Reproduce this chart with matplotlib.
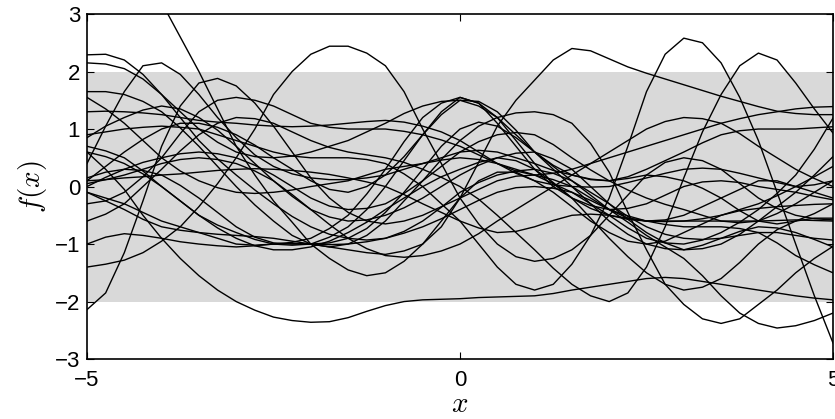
import numpy as np
import matplotlib
matplotlib.use("Agg")
import matplotlib.pyplot as plt

# sample inputs, one reading every 0.25
x_grid = [-5.0, -4.75, -4.5, -4.25, -4.0, -3.75, -3.5, -3.25, -3.0, -2.75,
          -2.5, -2.25, -2.0, -1.75, -1.5, -1.25, -1.0, -0.75, -0.5, -0.25,
          0.0, 0.25, 0.5, 0.75, 1.0, 1.25, 1.5, 1.75, 2.0, 2.25,
          2.5, 2.75, 3.0, 3.25, 3.5, 3.75, 4.0, 4.25, 4.5, 4.75, 5.0]

# function samples (one list per curve)
f01 = [5.4, 4.9, 4.4, 3.8, 3.2, 2.6, 2.0, 1.35, 0.7, 0.2, -0.25, -0.62, -1.0, -1.25, -1.45, -1.55, -1.5, -1.3, -1.0, -0.6, -0.2, 0.1, 0.25, 0.25, 0.1, -0.1, -0.35, -0.6, -0.8, -0.95, -1.0, -0.95, -0.8, -0.65, -0.5, -0.42, -0.38, -0.35, -0.33, -0.31, -0.3]
f02 = [-2.14, -1.85, -1.15, -0.25, 0.7, 1.4, 1.8, 1.88, 1.75, 1.45, 1.05, 0.6, 0.15, -0.2, -0.45, -0.6, -0.65, -0.6, -0.5, -0.35, -0.2, -0.05, 0.1, 0.18, 0.2, 0.12, 0.0, -0.2, -0.4, -0.55, -0.6, -0.58, -0.5, -0.35, -0.2, -0.05, 0.1, 0.1, 0.0, -0.1, -0.2]
f03 = [-1.4, -1.35, -1.28, -1.15, -0.95, -0.7, -0.35, 0.05, 0.5, 1.0, 1.6, 2.0, 2.3, 2.44, 2.44, 2.32, 2.1, 1.65, 1.0, 0.4, -0.2, -0.65, -1.0, -1.22, -1.3, -1.25, -1.1, -0.85, -0.5, -0.15, 0.2, 0.42, 0.5, 0.45, 0.3, 0.05, -0.2, -0.38, -0.5, -0.56, -0.58]
f04 = [0.6, 0.3, -0.05, -0.5, -0.9, -1.25, -1.55, -1.8, -2.0, -2.15, -2.27, -2.33, -2.36, -2.35, -2.28, -2.17, -2.07, -2.0, -1.97, -1.96, -1.95, -1.93, -1.92, -1.91, -1.9, -1.86, -1.8, -1.75, -1.7, -1.65, -1.6, -1.58, -1.6, -1.65, -1.7, -1.75, -1.8, -1.85, -1.9, -1.94, -1.97]
f05 = [0.15, 0.25, 0.3, 0.28, 0.2, 0.02, -0.2, -0.45, -0.7, -0.88, -0.98, -1.0, -1.0, -1.05, -1.1, -1.15, -1.18, -1.12, -1.0, -0.7, -0.2, 0.42, 1.05, 1.5, 1.85, 2.2, 2.4, 2.36, 2.22, 2.08, 1.97, 1.87, 1.77, 1.67, 1.57, 1.48, 1.39, 1.31, 1.27, 1.25, 1.25]
f06 = [0.9, 0.95, 1.0, 1.03, 1.05, 1.03, 1.0, 0.9, 0.8, 0.7, 0.6, 0.53, 0.5, 0.5, 0.5, 0.47, 0.4, 0.22, 0.0, -0.3, -0.6, -1.0, -1.4, -1.7, -1.8, -1.7, -1.35, -0.85, -0.2, 0.7, 1.65, 2.3, 2.58, 2.5, 2.15, 1.55, 0.8, -0.1, -1.0, -1.9, -2.72]
f07 = [-0.6, -0.48, -0.3, 0.0, 0.3, 0.62, 0.9, 1.1, 1.2, 1.18, 1.1, 0.95, 0.8, 0.68, 0.6, 0.55, 0.5, 0.42, 0.3, 0.16, 0.0, -0.22, -0.5, -0.8, -1.1, -1.42, -1.7, -1.9, -2.0, -1.85, -1.4, -0.7, 0.15, 0.95, 1.6, 2.1, 2.32, 2.2, 1.8, 1.35, 0.93]
f08 = [1.65, 1.65, 1.6, 1.48, 1.3, 1.02, 0.7, 0.35, 0.0, -0.32, -0.6, -0.85, -1.0, -1.05, -1.0, -0.85, -0.6, -0.25, 0.1, 0.47, 0.8, 1.05, 1.2, 1.28, 1.3, 1.25, 1.1, 0.75, 0.25, -0.45, -1.1, -1.7, -2.05, -2.3, -2.38, -2.3, -2.05, -1.8, -1.5, -1.25, -1.04]
f09 = [-1.0, -0.88, -0.82, -0.85, -0.9, -0.96, -1.0, -1.03, -1.05, -1.03, -1.0, -0.99, -1.0, -0.98, -0.9, -0.73, -0.45, -0.1, 0.3, 0.7, 1.0, 1.12, 1.05, 0.85, 0.6, 0.35, 0.1, -0.15, -0.4, -0.62, -0.85, -1.05, -1.25, -1.55, -1.9, -2.2, -2.38, -2.46, -2.42, -2.33, -2.2]
f10 = [0.7, 0.62, 0.5, 0.27, 0.0, -0.25, -0.5, -0.67, -0.8, -0.92, -1.0, -1.02, -1.0, -0.88, -0.7, -0.4, 0.0, 0.45, 0.9, 1.3, 1.55, 1.45, 1.1, 0.7, 0.3, 0.0, -0.2, -0.33, -0.4, -0.38, -0.3, -0.15, 0.0, 0.08, 0.1, 0.07, 0.0, -0.05, -0.1, -0.17, -0.23]
f11 = [0.1, 0.35, 0.6, 0.82, 1.0, 1.1, 1.1, 1.03, 0.9, 0.72, 0.5, 0.3, 0.1, -0.05, -0.1, 0.0, 0.2, 0.52, 0.9, 1.25, 1.5, 1.48, 1.3, 0.98, 0.6, 0.3, 0.0, -0.3, -0.6, -0.83, -1.0, -1.08, -1.1, -1.02, -0.9, -0.78, -0.7, -0.72, -0.8, -0.92, -1.05]
f12 = [-0.1, -0.2, -0.3, -0.45, -0.6, -0.7, -0.8, -0.9, -1.0, -1.02, -1.0, -0.97, -0.9, -0.73, -0.5, -0.13, 0.3, 0.78, 1.2, 1.45, 1.55, 1.45, 1.2, 0.8, 0.4, 0.05, -0.2, -0.38, -0.5, -0.57, -0.6, -0.61, -0.6, -0.56, -0.5, -0.4, -0.3, -0.16, 0.0, 0.17, 0.35]
f13 = [2.15, 2.13, 2.05, 1.87, 1.6, 1.3, 1.0, 0.77, 0.6, 0.52, 0.5, 0.53, 0.6, 0.7, 0.8, 0.95, 1.1, 1.27, 1.4, 1.48, 1.5, 1.4, 1.2, 0.9, 0.6, 0.37, 0.2, 0.12, 0.1, 0.14, 0.2, 0.17, 0.1, -0.03, -0.2, -0.42, -0.6, -0.65, -0.6, -0.47, -0.3]
f14 = [1.3, 1.31, 1.3, 1.28, 1.25, 1.2, 1.15, 1.12, 1.1, 1.07, 1.05, 1.04, 1.05, 1.07, 1.1, 1.13, 1.15, 1.12, 1.05, 0.95, 0.8, 0.6, 0.4, 0.23, 0.1, 0.03, 0.0, -0.01, 0.0, 0.07, 0.15, 0.23, 0.3, 0.32, 0.3, 0.23, 0.15, 0.07, 0.0, 0.03, 0.1]
f15 = [2.29, 2.3, 2.2, 1.95, 1.6, 1.2, 0.8, 0.48, 0.2, -0.06, -0.3, -0.52, -0.7, -0.83, -0.9, -0.93, -0.9, -0.78, -0.6, -0.36, -0.1, 0.07, 0.2, 0.27, 0.3, 0.23, 0.1, -0.1, -0.3, -0.52, -0.7, -0.83, -0.9, -0.92, -0.9, -0.85, -0.8, -0.8, -0.85, -0.9, -0.93]
f16 = [0.4, 1.05, 1.65, 2.1, 2.15, 1.95, 1.6, 1.2, 0.85, 0.55, 0.35, 0.22, 0.15, 0.12, 0.12, 0.15, 0.2, 0.3, 0.4, 0.5, 0.6, 0.63, 0.6, 0.5, 0.4, 0.28, 0.2, 0.13, 0.1, 0.17, 0.3, 0.45, 0.6, 0.76, 0.9, 0.97, 1.0, 1.0, 1.0, 1.02, 1.04]
f17 = [0.85, 1.05, 1.2, 1.33, 1.4, 1.35, 1.2, 0.98, 0.7, 0.4, 0.1, -0.17, -0.4, -0.53, -0.6, -0.58, -0.5, -0.37, -0.2, 0.0, 0.2, 0.37, 0.5, 0.58, 0.6, 0.48, 0.3, 0.0, -0.3, -0.57, -0.8, -0.98, -1.1, -1.08, -1.0, -0.83, -0.6, -0.35, -0.1, 0.2, 0.52]
f18 = [-0.3, -0.25, -0.1, 0.17, 0.5, 0.92, 1.3, 1.5, 1.55, 1.5, 1.4, 1.25, 1.1, 1.03, 1.0, 1.0, 1.0, 0.96, 0.9, 0.81, 0.7, 0.55, 0.4, 0.27, 0.2, 0.23, 0.3, 0.4, 0.5, 0.6, 0.7, 0.8, 0.9, 1.0, 1.1, 1.18, 1.25, 1.3, 1.35, 1.38, 1.39]
f19 = [0.05, 0.12, 0.2, 0.3, 0.4, 0.47, 0.5, 0.47, 0.4, 0.27, 0.1, -0.14, -0.4, -0.66, -0.9, -1.08, -1.2, -1.23, -1.2, -1.12, -1.0, -0.82, -0.6, -0.4, -0.2, 0.0, 0.2, 0.4, 0.6, 0.8, 1.0, 1.13, 1.2, 1.18, 1.1, 0.92, 0.7, 0.5, 0.3, 0.14, 0.0]
f20 = [0.6, 0.52, 0.4, 0.22, 0.0, -0.25, -0.5, -0.72, -0.9, -1.03, -1.1, -1.1, -1.05, -0.95, -0.8, -0.62, -0.4, -0.2, 0.0, 0.17, 0.3, 0.42, 0.5, 0.45, 0.3, 0.07, -0.2, -0.55, -0.9, -1.22, -1.5, -1.7, -1.8, -1.75, -1.6, -1.32, -1.0, -0.75, -0.6, -0.55, -0.55]
f21 = [-0.1, -0.25, -0.4, -0.57, -0.7, -0.76, -0.8, -0.83, -0.85, -0.87, -0.9, -0.95, -1.0, -1.01, -1.0, -0.96, -0.9, -0.81, -0.7, -0.56, -0.4, -0.24, -0.1, -0.02, 0.0, -0.03, -0.1, -0.24, -0.4, -0.51, -0.6, -0.66, -0.7, -0.7, -0.7, -0.73, -0.8, -0.98, -1.2, -1.36, -1.5]
f22 = [1.55, 1.35, 1.1, 0.8, 0.5, 0.27, 0.1, -0.02, -0.1, -0.12, -0.1, -0.06, 0.0, 0.05, 0.1, 0.2, 0.3, 0.35, 0.4, 0.46, 0.5, 0.47, 0.4, 0.3, 0.2, 0.05, -0.1, -0.3, -0.5, -0.72, -0.9, -0.98, -1.0, -0.93, -0.8, -0.62, -0.4, -0.12, 0.2, 0.65, 1.19]
f23 = [0.0, 0.16, 0.3, 0.42, 0.5, 0.57, 0.6, 0.57, 0.5, 0.37, 0.2, 0.0, -0.2, -0.34, -0.4, -0.38, -0.3, -0.12, 0.1, 0.35, 0.6, 0.78, 0.9, 0.94, 0.9, 0.73, 0.5, 0.29, 0.1, -0.06, -0.2, -0.31, -0.4, -0.5, -0.6, -0.63, -0.6, -0.47, -0.3, -0.1, 0.1]
f24 = [0.1, 0.12, 0.15, 0.17, 0.2, 0.22, 0.25, 0.28, 0.3, 0.31, 0.3, 0.28, 0.25, 0.21, 0.15, 0.08, 0.0, -0.14, -0.3, -0.45, -0.6, -0.72, -0.8, -0.78, -0.7, -0.59, -0.5, -0.48, -0.5, -0.55, -0.6, -0.6, -0.6, -0.6, -0.6, -0.6, -0.6, -0.59, -0.58, -0.59, -0.6]

samples = [f01, f02, f03, f04, f05, f06, f07, f08, f09, f10, f11, f12,
           f13, f14, f15, f16, f17, f18, f19, f20, f21, f22, f23, f24]

# +/- 2 standard deviation band of the prior
band_lo = -2
band_hi = 2

for i, f in enumerate(samples):
    assert len(f) == len(x_grid), (i + 1, len(f))

plt.rcParams["font.family"] = ["Liberation Sans", "DejaVu Sans"]
plt.rcParams["mathtext.fontset"] = "cm"

fig = plt.figure(figsize=(8.35, 4.19), dpi=100)
ax = fig.add_axes([0.1042, 0.143, 0.8934, 0.8236])

ax.fill_between([-5, 5], band_lo, band_hi, color="#d9d9d9", lw=0, zorder=1)

for f in samples:
    ax.plot(x_grid, f, color="black", lw=1.0, zorder=2,
            solid_joinstyle="round")

ax.set_xlim(-5, 5)
ax.set_ylim(-3, 3)
ax.set_xticks([-5, 0, 5])
ax.set_yticks([-3, -2, -1, 0, 1, 2, 3])
ax.set_xticklabels(["\u22125", "0", "5"])
ax.set_yticklabels(["\u22123", "\u22122", "\u22121", "0", "1", "2", "3"])
ax.tick_params(direction="in", top=True, right=True, length=5,
               width=0.8, labelsize=16)
ax.tick_params(axis="x", pad=8)
ax.tick_params(axis="y", pad=5)
for sp in ax.spines.values():
    sp.set_linewidth(1.2)
    sp.set_zorder(3)

ax.set_xlabel("$x$", fontsize=21, labelpad=-1)
ax.set_ylabel("$f(x)$", fontsize=21, labelpad=4)

fig.savefig("out.png", dpi=100)
